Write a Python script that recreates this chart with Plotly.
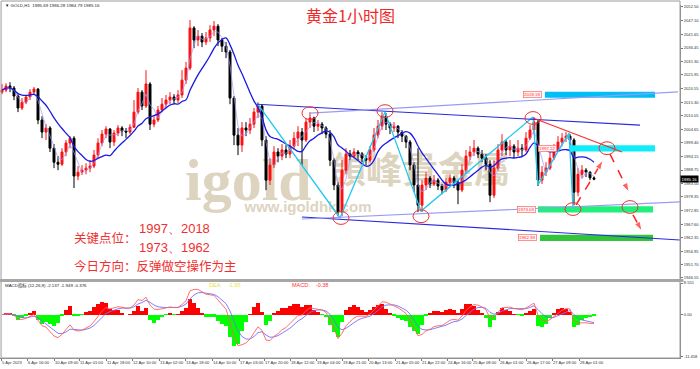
import plotly.graph_objects as go
import pandas as pd

W, H = 700, 369
PW = 680 / W  # plot width fraction (right axis at x=680)


def py(ypx):
    return 1 - ypx / H


# ---------------- data ----------------
first_open = 2019.2
closes = [
    2020.0, 2021.6, 2020.8, 2017.7, 2013.0, 2015.3, 2017.3, 2019.2, 2020.4, 2008.3,
    2003.6, 2005.2, 1997.3, 1991.8, 1991.0, 1995.8, 1999.3, 2001.2, 1986.4, 1987.9,
    1988.7, 1989.5, 1990.3, 1994.6, 1999.3, 2002.8, 2004.8, 1999.7, 2003.2, 2005.2,
    2004.0, 2003.6, 2005.5, 2011.4, 2019.2, 2013.8, 2022.4, 2006.7, 2008.3, 2012.2,
    2014.5, 2016.1, 2017.3, 2016.1, 2018.1, 2023.9, 2028.6, 2044.3, 2039.6, 2041.1,
    2038.8, 2040.4, 2043.5, 2045.0, 2039.6, 2037.2, 2034.9, 2016.9, 2002.4, 1998.5,
    2005.2, 2004.4, 2006.7, 2011.4, 2013.8, 2000.5, 1984.8, 1990.7, 1995.8, 1994.2,
    1996.6, 1995.0, 1998.1, 2001.2, 2003.6, 2000.5, 2007.5, 2009.1, 2005.9, 2006.7,
    2005.2, 2002.8, 1992.6, 1982.9, 1972.3, 1988.7, 1995.0, 1994.2, 1995.8, 1995.0,
    1993.4, 1992.6, 1996.6, 2002.4, 2005.9, 2009.8, 2006.7, 2005.2, 2005.9, 2003.6,
    2002.0, 1999.7, 1990.7, 1982.9, 1975.0, 1982.9, 1985.6, 1983.3, 1984.8, 1982.5,
    1980.9, 1984.0, 1985.6, 1984.0, 1980.9, 1988.7, 1994.2, 1995.8, 1997.3, 1995.0,
    1993.4, 1991.0, 1978.9, 1989.5, 1996.6, 1999.7, 1996.6, 1998.1, 1995.8, 1997.3,
    1996.6, 2001.2, 2004.4, 2007.5, 1984.8, 1987.9, 1989.5, 1993.4, 1996.6, 1999.7,
    2001.2, 2002.0, 2000.5, 1980.1, 1987.1, 1988.7, 1987.9, 1985.69, 1985.16,
]
highs = [
    2022.4, 2022.7, 2023.1, 2021.6, 2018.4, 2016.9, 2018.1, 2020.4, 2021.2, 2020.8,
    2009.8, 2006.7, 2005.9, 1998.9, 1994.2, 1997.3, 2000.5, 2002.0, 2002.0, 1990.3,
    1990.7, 1991.4, 1992.6, 1996.6, 2001.2, 2004.4, 2005.9, 2005.2, 2004.4, 2006.3,
    2005.9, 2005.2, 2006.7, 2016.1, 2020.8, 2020.0, 2027.8, 2023.1, 2009.8, 2013.8,
    2016.9, 2018.1, 2019.2, 2018.4, 2020.0, 2027.8, 2031.0, 2047.4, 2045.0, 2043.5,
    2042.3, 2042.7, 2045.4, 2047.0, 2045.8, 2040.4, 2038.8, 2035.7, 2017.7, 2005.2,
    2007.5, 2007.5, 2009.1, 2013.0, 2015.3, 2014.5, 2002.0, 1993.4, 1998.1, 1997.3,
    1998.9, 1998.5, 2000.5, 2003.6, 2005.9, 2005.2, 2009.1, 2011.4, 2009.6, 2008.3,
    2007.5, 2005.9, 2004.4, 1993.4, 1984.0, 1992.6, 1997.3, 1996.6, 1997.3, 1996.6,
    1995.8, 1994.6, 1998.1, 2005.2, 2008.3, 2011.4, 2011.0, 2007.5, 2007.5, 2006.3,
    2004.4, 2002.4, 2000.5, 1991.8, 1997.3, 1984.8, 1987.9, 1986.4, 1986.8, 1985.6,
    1983.3, 1985.6, 1987.1, 1986.4, 1984.8, 1991.0, 1996.6, 1998.1, 2000.5, 1998.0,
    1996.6, 1995.0, 1992.6, 1992.6, 1998.9, 2002.8, 2000.5, 2000.5, 1998.9, 2000.5,
    1998.9, 2003.6, 2006.3, 2009.5, 2008.3, 1990.3, 1991.8, 1995.8, 1998.9, 2002.0,
    2003.2, 2003.6, 2002.8, 2001.2, 1989.5, 1990.7, 1989.5, 1988.3, 1986.28,
]
lows = [
    2018.4, 2019.2, 2019.2, 2016.1, 2011.4, 2012.2, 2014.5, 2016.1, 2018.1, 2006.7,
    2001.2, 2000.5, 1995.8, 1989.5, 1988.7, 1990.3, 1994.2, 1997.3, 1981.7, 1984.8,
    1986.8, 1987.1, 1987.9, 1989.5, 1993.4, 1998.1, 2001.2, 1997.3, 1998.1, 2002.0,
    2002.0, 2001.2, 2002.8, 2005.2, 2010.6, 2012.2, 2013.0, 2004.4, 2005.5, 2007.5,
    2011.4, 2013.0, 2014.5, 2014.5, 2014.9, 2016.9, 2022.4, 2027.8, 2036.4, 2037.2,
    2036.8, 2037.6, 2038.8, 2041.1, 2037.2, 2034.9, 2032.5, 2014.5, 1998.5, 1994.6,
    1995.8, 2002.0, 2002.8, 2005.2, 2009.1, 1998.1, 1980.9, 1982.9, 1989.5, 1991.8,
    1992.6, 1993.4, 1993.4, 1996.6, 1998.1, 1990.7, 1999.7, 2005.2, 2003.6, 2004.0,
    2002.8, 2001.2, 1990.3, 1980.9, 1970.7, 1970.7, 1987.1, 1992.6, 1993.4, 1992.6,
    1991.8, 1990.7, 1991.8, 1995.8, 2001.2, 2004.4, 2004.4, 2002.8, 2003.6, 2001.2,
    1999.7, 1997.3, 1988.7, 1980.1, 1972.3, 1972.3, 1980.9, 1981.7, 1982.5, 1980.9,
    1979.3, 1980.1, 1982.5, 1981.7, 1975.4, 1980.1, 1987.1, 1992.6, 1994.2, 1993.4,
    1991.8, 1988.7, 1976.2, 1977.8, 1988.7, 1994.2, 1994.6, 1994.2, 1993.4, 1994.2,
    1994.2, 1995.8, 2000.5, 2002.8, 1982.5, 1983.3, 1986.4, 1988.7, 1992.6, 1995.8,
    1998.1, 1999.7, 1998.1, 1975.0, 1978.5, 1985.6, 1986.0, 1984.8, 1984.79,
]
opens = [first_open] + closes[:-1]
bars = list(range(len(closes)))

time_labels = [
    "5 Apr 2023", "6 Apr 16:00", "10 Apr 09:00", "11 Apr 01:00", "11 Apr 18:00",
    "12 Apr 10:00", "13 Apr 02:00", "13 Apr 18:00", "14 Apr 10:00", "17 Apr 03:00",
    "17 Apr 20:00", "18 Apr 12:00", "19 Apr 04:00", "19 Apr 21:00", "20 Apr 13:00",
    "21 Apr 05:00", "21 Apr 22:00", "24 Apr 16:00", "25 Apr 08:00", "26 Apr 01:00",
    "26 Apr 17:00", "27 Apr 09:00", "28 Apr 01:00",
]
time_label_bars = [
    -0.25, 6.25, 13.0, 19.25, 26.0, 32.5, 39.25, 45.75, 52.5, 59.25, 65.5, 72.0,
    78.5, 85.0, 91.5, 98.25, 104.75, 111.25, 117.5, 124.25, 131.0, 137.5, 144.25,
]

price_ticks = [2052.50, 2047.10, 2041.65, 2036.45, 2031.30, 2025.95, 2020.55,
               2015.30, 2010.05, 2004.65, 1999.40, 1994.15, 1988.75, 1983.50,
               1978.35, 1972.85, 1967.60, 1962.35, 1956.95, 1951.70, 1946.55]
macd_ticks = [8.551, 0.0, -11.458]
macd_tick_text = ["8.551", "0.00", "-11.458"]

# analyst drawing: key levels (zones)
level_values = [2018.18, 1997.22, 1973.36, 1962.24]
level_text = ["2018.18", "1997.22", "1973.03", "1962.39"]
zone_from = [135.75, 142.0, 134.0, 134.5]
zone_to = [163.25, 163.25, 162.75, 162.75]
zone_colors = ["#00bff5", "#10ecf8", "#1ff07a", "#33c43a"]
level_label_bar = [132.5, 136.3, 131.0, 131.25]

# channel lines (bar, price)
channel_lines = [
    ((63.75, 2014.5), (159.5, 2006.3), "#2a2ae0"),
    ((77.0, 2011.0), (169.0, 2019.3), "#9a9af5"),
    ((75.0, 1970.4), (169.5, 1961.4), "#2a2ae0"),
    ((75.0, 1969.6), (169.5, 1976.3), "#9a9af5"),
]
# cyan zigzag pivots
zig_bars = [63.75, 84.5, 95.75, 104.75, 132.75, 134.0, 141.75, 142.75]
zig_prices = [2014.9, 1970.0, 2011.4, 1972.7, 2009.5, 1982.9, 2003.2, 1973.9]
# red circles
circle_bars = [77.0, 95.75, 84.75, 104.75, 132.75, 151.25, 142.75, 157.0]
circle_prices = [2011.0, 2011.8, 1970.0, 1970.7, 2009.1, 1997.3, 1973.5, 1974.3]
# red resistance line
red_line = ((132.75, 2009.1), (155.0, 1995.8))
# red dashed arrows (tail, head)
arrows = [
    ((143.5, 1975.1), (150.25, 1992.6)),
    ((152.0, 1995.0), (156.75, 1980.1)),
    ((157.75, 1971.2), (160.0, 1964.9)),
]

# ---------------- indicators ----------------
s = pd.Series(closes)
ma_slow = s.rolling(10, min_periods=1).mean()
ma_fast = s.rolling(3, min_periods=1).mean()
ema_f = s.ewm(span=5, adjust=False).mean()
ema_s = s.ewm(span=10, adjust=False).mean()
dif = ema_f - ema_s
dea = dif.ewm(span=4, adjust=False).mean()
hist = 2 * (dif - dea)

fig = go.Figure()

fig.add_trace(go.Candlestick(
    x=bars, open=opens, high=highs, low=lows, close=closes,
    increasing=dict(line=dict(color="#ff1010", width=1), fillcolor="#ff1010"),
    decreasing=dict(line=dict(color="#000000", width=1), fillcolor="#000000"),
    whiskerwidth=0, xaxis="x", yaxis="y", showlegend=False, hoverinfo="skip"))

fig.add_trace(go.Scatter(x=bars, y=ma_fast, mode="lines",
                         line=dict(color="#9a9aff", width=0.7),
                         xaxis="x", yaxis="y", showlegend=False))
fig.add_trace(go.Scatter(x=bars, y=ma_slow, mode="lines",
                         line=dict(color="#1a1ae6", width=1.3, shape="spline"),
                         xaxis="x", yaxis="y", showlegend=False))
fig.add_trace(go.Scatter(x=zig_bars, y=zig_prices, mode="lines",
                         line=dict(color="#1ec8f0", width=1.3),
                         xaxis="x", yaxis="y", showlegend=False))

for (tail, head) in arrows:
    fig.add_trace(go.Scatter(
        x=[tail[0], head[0]], y=[tail[1], head[1]], mode="lines+markers",
        line=dict(color="#ff2020", width=1.5, dash="dash"),
        marker=dict(symbol="arrow", size=[0, 10], color="#ff2020",
                    angleref="previous"),
        xaxis="x", yaxis="y", showlegend=False))

# MACD panel
hist_colors = ["#ff0000" if v > 0 else "#00ff00" for v in hist]
fig.add_trace(go.Bar(x=bars, y=hist, marker=dict(color=hist_colors, line=dict(width=0)),
                     xaxis="x2", yaxis="y2", showlegend=False))
fig.add_trace(go.Scatter(x=bars, y=dea, mode="lines",
                         line=dict(color="#7070ff", width=0.9),
                         xaxis="x2", yaxis="y2", showlegend=False))
fig.add_trace(go.Scatter(x=bars, y=dif, mode="lines",
                         line=dict(color="#ff6060", width=0.9),
                         xaxis="x2", yaxis="y2", showlegend=False))

shapes = []
# watermark (below everything)
wm = [
    ("igold", 61.6, 1987.5, 60, "Liberation Serif", "bold"),
    ("領峰貴金屬", 104.5, 1987.5, 36, "Noto Sans CJK TC", "bold"),
    ("www.igoldhk.com", 76.5, 1974.7, 15, "Liberation Sans", "bold"),
]
for text, bx, bp, size, fam, wt in wm:
    shapes.append(dict(type="rect", xref="x", yref="y", x0=bx - 1, x1=bx + 1,
                       y0=bp - 1, y1=bp + 1, line=dict(width=0),
                       fillcolor="rgba(0,0,0,0)", layer="below",
                       label=dict(text=text, textposition="middle center",
                                  font=dict(size=size, family=fam, color="#ddd4c0",
                                            weight=wt))))

# zones
for lv, x0, x1, col in zip(level_values, zone_from, zone_to, zone_colors):
    shapes.append(dict(type="rect", xref="x", yref="y", x0=x0, x1=x1,
                       y0=lv - 1.2, y1=lv + 1.2, line=dict(width=0), fillcolor=col))
# channel lines
for (a, b, col) in channel_lines:
    shapes.append(dict(type="line", xref="x", yref="y", x0=a[0], y0=a[1],
                       x1=b[0], y1=b[1], line=dict(color=col, width=1.1)))
shapes.append(dict(type="line", xref="x", yref="y", x0=red_line[0][0], y0=red_line[0][1],
                   x1=red_line[1][0], y1=red_line[1][1], line=dict(color="#ff2a2a", width=1.1)))
for cb, cp in zip(circle_bars, circle_prices):
    shapes.append(dict(type="circle", xref="x", yref="y", x0=cb - 2, x1=cb + 2,
                       y0=cp - 2.5, y1=cp + 2.5, line=dict(color="#f03030", width=1)))
# frame and separator
shapes.append(dict(type="rect", xref="paper", yref="paper", x0=0.0015, x1=PW,
                   y0=py(358), y1=py(1), line=dict(color="#9a9a9a", width=1)))
shapes.append(dict(type="line", xref="paper", yref="paper", x0=0, x1=PW + 0.005,
                   y0=py(280.5), y1=py(280.5), line=dict(color="#a6a6a6", width=3)))

ann = []
small = dict(family="Liberation Sans", size=4.4, color="#222222")


def pann(x, y, text, font, xanchor="left", **kw):
    d = dict(x=x / W, y=py(y), xref="paper", yref="paper", xanchor=xanchor,
             yanchor="middle", showarrow=False, text=text, font=font)
    d.update(kw)
    ann.append(d)


pann(3, 5.5, "▼ GOLD,H1  1985.69 1986.28 1984.79 1985.16", small)
pann(350, 15, "黄金1小时图",
     dict(family="Noto Sans CJK SC", size=16, color="#f02828"), xanchor="center")
red_cn = dict(family="Noto Sans CJK SC", size=12.5, color="#f03030")
red_num = dict(family="Liberation Sans", size=13, color="#f03030")
pann(72, 238, "关键点位：", red_cn)
pann(137, 228, "1997、2018", red_num)
pann(137, 247, "1973、1962", red_num)
pann(72, 265, "今日方向：反弹做空操作为主", red_cn)

# level labels
for lv, t, lb in zip(level_values, level_text, level_label_bar):
    ann.append(dict(x=lb, y=lv, xref="x", yref="y", showarrow=False, text=t,
                    yanchor="middle",
                    font=dict(family="Liberation Sans", size=4.4, color="#ff3030"),
                    bgcolor="#fff4f4", bordercolor="#ff5050", borderwidth=0.6, borderpad=0.5))
# current price box
ann.append(dict(x=PW + 0.0005, y=closes[-1], xref="paper", yref="y", xanchor="left",
                yanchor="middle", showarrow=False, text="%.2f" % closes[-1],
                font=dict(family="Liberation Sans", size=4.2, color="#ffffff"),
                bgcolor="#000000", borderpad=0.5))
# MACD texts
pann(3, 285.5, "MACD指标 (12,26,9) -2.137 -1.949 -0.376",
     dict(family="Liberation Sans, Noto Sans CJK SC", size=4.4, color="#222222"))
pann(207, 284.5, "DEA:&nbsp;&nbsp;&nbsp;&nbsp;-1.95",
     dict(family="Liberation Sans", size=5.5, color="#ece040"))
pann(290, 284.5, "MACD:&nbsp;&nbsp;&nbsp;&nbsp;-0.38",
     dict(family="Liberation Sans", size=5.5, color="#ff3030"))

tickfont = dict(family="Liberation Sans", size=4.1, color="#333333")
fig.update_layout(
    width=W, height=H, autosize=False,
    margin=dict(l=0, r=0, t=0, b=0),
    paper_bgcolor="white", plot_bgcolor="white",
    showlegend=False, bargap=0,
    shapes=shapes, annotations=ann,
    xaxis=dict(domain=[0, PW], range=[-0.5, 169.5], anchor="y",
               showticklabels=False, showgrid=False, zeroline=False,
               rangeslider=dict(visible=False), fixedrange=True),
    yaxis=dict(domain=[py(280), py(5)], range=[1945.76, 2053.28], anchor="x",
               side="right", tickvals=price_ticks,
               ticktext=["%.2f" % v for v in price_ticks], ticks="outside",
               ticklen=2, tickcolor="#777777", showline=True, linecolor="#8a8a8a",
               showgrid=False, zeroline=False, tickfont=tickfont, automargin=False),
    xaxis2=dict(domain=[0, PW], range=[-0.5, 169.5], anchor="y2", matches="x",
                tickvals=time_label_bars, ticktext=time_labels, ticks="outside",
                ticklen=2, tickcolor="#777777", ticklabelposition="outside right",
                showline=True, linecolor="#8a8a8a", showgrid=False, zeroline=False,
                tickfont=tickfont, tickangle=0, automargin=False),
    yaxis2=dict(domain=[py(358), py(283)], range=[-11.73, 8.551], anchor="x2",
                side="right", tickvals=macd_ticks, ticktext=macd_tick_text,
                ticks="outside", ticklen=2, tickcolor="#777777", showline=True,
                linecolor="#8a8a8a", showgrid=False, zeroline=False,
                tickfont=tickfont, automargin=False),
)

fig.write_html("out.html")
